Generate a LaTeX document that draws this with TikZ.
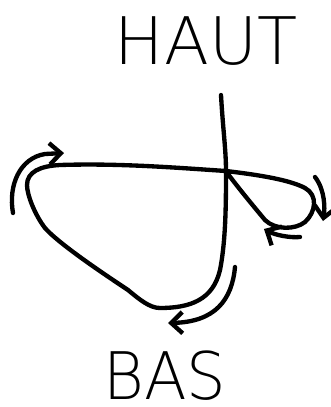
\documentclass[tikz,border=0pt]{standalone}
\usepackage{fontspec}
\newfontfamily\fin{DejaVu Sans ExtraLight}
\usetikzlibrary{arrows.meta}
\tikzset{
  >={Straight Barb[length=3.4mm,width=6.4mm]},
  tr/.style={line width=3.7pt,line cap=round,line join=round},
  fl/.style={tr,->},
  lbl/.style={inner sep=0pt,font=\fin\fontsize{56}{60}\selectfont},
}
\begin{document}
\begin{tikzpicture}[x=0.03cm,y=-0.03cm]
\useasboundingbox (0,0) rectangle (331,407);
\node[lbl] (haut) at (206,41){HAUT};
\node[lbl,xscale=0.95] (bas) at (165,376){BAS};
% trace
\draw[tr] (221,95) .. controls (223,130) and (226,150) .. (226,171)
  .. controls (226,200) and (226,240) .. (220,270)
  .. controls (213,300) and (190,308) .. (160,308)
  .. controls (150,308) and (140,300) .. (128,290)
  .. controls (110,278) and (60,245) .. (45,228)
  .. controls (35,215) and (27,195) .. (27,185)
  .. controls (27,172) and (40,166) .. (60,165)
  .. controls (120,163) and (180,168) .. (226,171)
  .. controls (260,175) and (290,180) .. (305,188)
  .. controls (318,195) and (316,212) .. (305,222)
  .. controls (295,230) and (275,230) .. (265,220)
  .. controls (255,208) and (240,190) .. (228,174);
% sens
\draw[fl] (13,213) .. controls (8,185) and (20,158) .. (45,154) -- (64,153);
\draw[fl] (315,177) .. controls (325,190) and (325,208) .. (323,221);
\draw[fl] (300,237) .. controls (290,238) and (275,235) .. (264,229);
\draw[fl] (235,267) .. controls (232,300) and (215,322) .. (168,323);
\end{tikzpicture}
\end{document}
